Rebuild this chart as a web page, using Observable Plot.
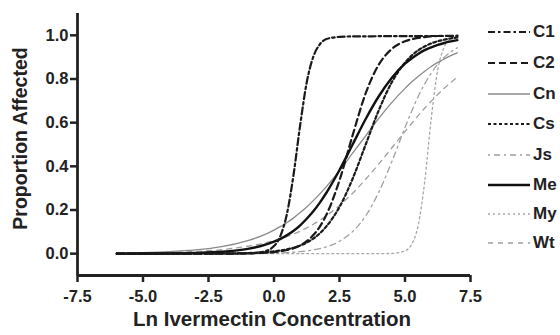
<!DOCTYPE html>
<html>
<head>
<meta charset="utf-8">
<script src="https://cdn.jsdelivr.net/npm/d3@7"></script>
<script src="https://cdn.jsdelivr.net/npm/@observablehq/plot@0.6"></script>
<style>
  html, body { margin: 0; padding: 0; background: #fff; }
  #wrap { position: relative; width: 560px; height: 335px; overflow: hidden; font-family: "Liberation Sans", Arial, sans-serif; }
  #legend { position: absolute; left: 486px; top: 0; }
  .row { position: absolute; left: 0; height: 20px; display: flex; align-items: center; white-space: nowrap; }
  .row span { font-weight: bold; font-size: 17px; color: #222; margin-left: 3px; }
</style>
</head>
<body>
<div id="wrap"><div id="legend"></div></div>
<script>
// Ln ivermectin concentration sample points
const xs = [-6,-5,-4,-3,-2,-1,-0.5,0,0.25,0.5,0.75,1,1.25,1.5,1.75,2,2.5,3,3.5,4,4.5,5,5.25,5.5,5.75,6,6.25,6.5,6.75,7];

// Proportion affected
const C1 = [0,0,0,0,0,0.001,0.006,0.035,0.083,0.186,0.365,0.59,0.785,0.902,0.959,0.983,0.993,0.995,0.995,0.996,0.996,0.996,0.996,0.997,0.997,0.997,0.997,0.997,0.997,0.997];
const C2 = [0,0,0,0,0.0002,0.0013,0.003,0.007,0.011,0.017,0.025,0.038,0.057,0.085,0.124,0.178,0.336,0.542,0.735,0.866,0.938,0.973,0.982,0.988,0.992,0.995,0.997,0.998,0.998,0.999];
const Cn = [0.0024,0.0047,0.009,0.017,0.032,0.06,0.08,0.108,0.125,0.143,0.164,0.188,0.214,0.243,0.274,0.307,0.38,0.46,0.54,0.62,0.693,0.757,0.786,0.812,0.835,0.857,0.876,0.892,0.907,0.92];
const Cs = [0,0,0.0001,0.0002,0.0008,0.003,0.0055,0.0105,0.0145,0.02,0.027,0.037,0.051,0.069,0.093,0.125,0.214,0.343,0.5,0.657,0.786,0.875,0.907,0.931,0.949,0.963,0.973,0.98,0.986,0.99];
const Js = [0,0,0,0.0001,0.0002,0.0008,0.0015,0.0026,0.0036,0.005,0.0067,0.009,0.0124,0.017,0.023,0.031,0.057,0.101,0.173,0.282,0.422,0.578,0.651,0.719,0.777,0.827,0.867,0.899,0.924,0.943];
const Me = [0.0002,0.0005,0.0013,0.0033,0.0086,0.022,0.035,0.055,0.068,0.085,0.105,0.13,0.16,0.194,0.234,0.279,0.383,0.5,0.617,0.721,0.806,0.87,0.894,0.915,0.932,0.945,0.956,0.965,0.972,0.978];
const My = [0,0,0,0,0,0,0,0,0,0,0,0,0,0,0,0,0,0,0,0.0001,0.0012,0.013,0.042,0.128,0.328,0.618,0.843,0.947,0.984,0.995];
const Wt = [0.0017,0.0031,0.0057,0.0104,0.0187,0.034,0.045,0.06,0.068,0.079,0.09,0.103,0.118,0.135,0.153,0.174,0.221,0.277,0.341,0.411,0.485,0.56,0.596,0.632,0.666,0.698,0.729,0.758,0.784,0.809];

const xTicks = [-7.5,-5,-2.5,0,2.5,5,7.5];
const yTicks = [0,0.2,0.4,0.6,0.8,1.0];

const seriesNames = ["C1","C2","Cn","Cs","Js","Me","My","Wt"];
const seriesValues = {C1, C2, Cn, Cs, Js, Me, My, Wt};

const styles = {
  C1: {stroke: "#1a1a1a", strokeWidth: 2.2, strokeDasharray: "7,3,2.5,3"},
  C2: {stroke: "#1a1a1a", strokeWidth: 2.2, strokeDasharray: "7,4"},
  Cn: {stroke: "#8a8a8a", strokeWidth: 1.3, strokeDasharray: null},
  Cs: {stroke: "#1a1a1a", strokeWidth: 2.2, strokeDasharray: "3,2.5"},
  Js: {stroke: "#a0a0a0", strokeWidth: 1.3, strokeDasharray: "2,4,6,4"},
  Me: {stroke: "#111", strokeWidth: 2.4, strokeDasharray: null},
  My: {stroke: "#a8a8a8", strokeWidth: 1.3, strokeDasharray: "2,3"},
  Wt: {stroke: "#a0a0a0", strokeWidth: 1.3, strokeDasharray: "5,5"}
};

const table = xs.map((x, i) => {
  const row = {x};
  for (const k of seriesNames) row[k] = seriesValues[k][i];
  return row;
});

const drawOrder = ["Wt","My","Js","Cn","Cs","C2","Me","C1"];

const plot = Plot.plot({
  width: 560,
  height: 335,
  marginLeft: 77,
  marginRight: 90,
  marginTop: 13,
  marginBottom: 60,
  style: {fontFamily: "'Liberation Sans', Arial, sans-serif", background: "transparent", color: "#222"},
  x: {domain: [-7.5, 7.5]},
  y: {domain: [-0.1, 1.1]},
  marks: [
    Plot.axisX({ticks: xTicks, tickFormat: d => d.toFixed(1), tickSize: 7, tickPadding: 8, fontSize: 16.5, fontWeight: "bold", strokeWidth: 2.5, label: null}),
    Plot.axisY({ticks: yTicks, tickFormat: d => d.toFixed(1), tickSize: 7, tickPadding: 2, fontSize: 16.5, fontWeight: "bold", strokeWidth: 2.5, label: null}),
    Plot.ruleX([-7.5], {strokeWidth: 2.8, stroke: "#222"}),
    Plot.ruleY([-0.1], {strokeWidth: 2.8, stroke: "#222"}),
    ...drawOrder.map(k => Plot.line(table, {x: "x", y: k, curve: "monotone-x", ...styles[k]})),
    Plot.text(["Ln Ivermectin Concentration"], {frameAnchor: "bottom", textAnchor: "middle", dy: 50, dx: -2, fontSize: 20.5, fontWeight: "bold", fill: "#222"}),
    Plot.text(["Proportion Affected"], {frameAnchor: "left", textAnchor: "middle", rotate: -90, dx: -57, dy: -6, fontSize: 19.5, fontWeight: "bold", fill: "#222"})
  ]
});

document.getElementById("wrap").prepend(plot);

// Legend
const rowY = [32, 63, 94, 124, 155, 185, 214, 243];
const legend = d3.select("#legend");
seriesNames.forEach((k, i) => {
  const row = legend.append("div").attr("class", "row").style("top", (rowY[i] - 10) + "px");
  const svg = row.append("svg").attr("width", 44).attr("height", 20);
  const s = styles[k];
  svg.append("line").attr("x1", 2).attr("x2", 44).attr("y1", 10).attr("y2", 10)
    .attr("stroke", s.stroke).attr("stroke-width", s.strokeWidth)
    .attr("stroke-dasharray", s.strokeDasharray);
  row.append("span").text(k);
});
</script>
</body>
</html>
